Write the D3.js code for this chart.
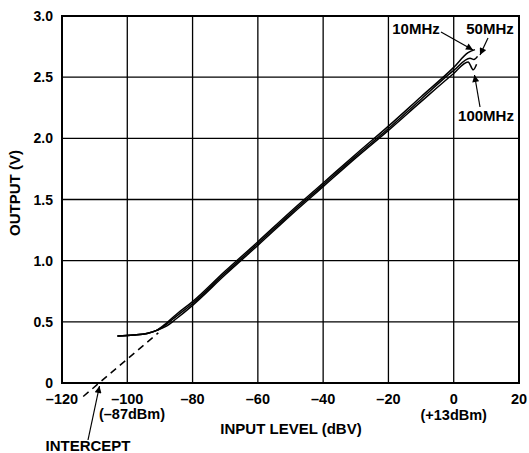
<!DOCTYPE html>
<html>
<head>
<meta charset="utf-8">
<script src="https://d3js.org/d3.v7.min.js"></script>
<style>
  body { margin: 0; background: #fff; }
  svg text { font-family: "Liberation Sans", Arial, sans-serif; font-weight: bold; fill: #000; }
</style>
</head>
<body>
<div id="chart"></div>
<script>
// axis ticks
const xTicks = [-120, -100, -80, -60, -40, -20, 0, 20];
const yTicks = [0, 0.5, 1.0, 1.5, 2.0, 2.5, 3.0];

// curves: [input dBV, output V]
const curve10MHz = [
  [-103, 0.385], [-98, 0.392], [-94, 0.405], [-91, 0.43], [-88, 0.49], [-85, 0.56],
  [-80, 0.665], [-70, 0.915], [-60, 1.155], [-50, 1.40], [-40, 1.635], [-30, 1.87],
  [-20, 2.10], [-10, 2.34], [0, 2.58], [4.4, 2.70], [6.5, 2.725]
];
const curve50MHz = [
  [-103, 0.385], [-98, 0.392], [-94, 0.405], [-91, 0.43], [-88, 0.48], [-85, 0.545],
  [-80, 0.65], [-70, 0.90], [-60, 1.14], [-50, 1.385], [-40, 1.62], [-30, 1.855],
  [-20, 2.08], [-10, 2.32], [0, 2.555], [5, 2.655], [6.2, 2.645], [7.3, 2.67]
];
const curve100MHz = [
  [-103, 0.385], [-98, 0.392], [-94, 0.405], [-91, 0.43], [-88, 0.465], [-85, 0.525],
  [-80, 0.635], [-70, 0.885], [-60, 1.125], [-50, 1.37], [-40, 1.605], [-30, 1.84],
  [-20, 2.065], [-10, 2.30], [0, 2.53], [4.4, 2.625], [6.0, 2.56], [7.0, 2.605]
];
// extrapolated intercept line
const interceptLine = [[-113.5, -0.11], [-90.5, 0.41]];

const width = 529, height = 453;
const margin = { top: 16, right: 10, bottom: 70, left: 62 };

const svg = d3.select('#chart').append('svg')
  .attr('width', width)
  .attr('height', height);

const x = d3.scaleLinear().domain([-120, 20]).range([margin.left, width - margin.right]);
const y = d3.scaleLinear().domain([0, 3]).range([height - margin.bottom, margin.top]);

// grid
svg.append('g').selectAll('line').data(xTicks.slice(1, -1)).enter().append('line')
  .attr('x1', d => x(d)).attr('x2', d => x(d))
  .attr('y1', y(0)).attr('y2', y(3))
  .attr('stroke', '#000').attr('stroke-width', 1.3);
svg.append('g').selectAll('line').data(yTicks.slice(1, -1)).enter().append('line')
  .attr('x1', x(-120)).attr('x2', x(20))
  .attr('y1', d => y(d)).attr('y2', d => y(d))
  .attr('stroke', '#000').attr('stroke-width', 1.3);

// frame
svg.append('rect')
  .attr('x', x(-120)).attr('y', y(3))
  .attr('width', x(20) - x(-120)).attr('height', y(0) - y(3))
  .attr('fill', 'none').attr('stroke', '#000').attr('stroke-width', 2);

// tick labels
svg.append('g').selectAll('text').data(xTicks).enter().append('text')
  .attr('x', d => x(d)).attr('y', y(0) + 21)
  .attr('text-anchor', 'middle').attr('font-size', 14.5)
  .text(d => d < 0 ? '\u2013' + Math.abs(d) : d);
svg.append('g').selectAll('text').data(yTicks).enter().append('text')
  .attr('x', x(-120) - 9).attr('y', d => y(d) + 5)
  .attr('text-anchor', 'end').attr('font-size', 14)
  .text(d => d === 0 ? '0' : d.toFixed(1));

// axis titles
svg.append('text')
  .attr('x', 291).attr('y', 434)
  .attr('text-anchor', 'middle').attr('font-size', 15)
  .text('INPUT LEVEL (dBV)');
svg.append('text')
  .attr('transform', 'translate(19.5,193) rotate(-90)')
  .attr('text-anchor', 'middle').attr('font-size', 15)
  .text('OUTPUT (V)');

// dBm notes under axis
svg.append('text').attr('x', 132).attr('y', 419)
  .attr('text-anchor', 'middle').attr('font-size', 14.5).text('(\u201387dBm)');
svg.append('text').attr('x', x(0)).attr('y', 420)
  .attr('text-anchor', 'middle').attr('font-size', 14.5).text('(+13dBm)');

// curves
const line = d3.line().x(d => x(d[0])).y(d => y(d[1])).curve(d3.curveMonotoneX);
[curve10MHz, curve50MHz, curve100MHz].forEach(c => {
  svg.append('path').datum(c)
    .attr('d', line)
    .attr('fill', 'none').attr('stroke', '#000').attr('stroke-width', 1.5);
});

svg.append('path').datum(interceptLine)
  .attr('d', d3.line().x(d => x(d[0])).y(d => y(d[1])))
  .attr('fill', 'none').attr('stroke', '#000').attr('stroke-width', 1.5)
  .attr('stroke-dasharray', '7,5');

// arrows
svg.append('defs').append('marker')
  .attr('id', 'arrow').attr('viewBox', '0 0 10 10')
  .attr('refX', 10).attr('refY', 5)
  .attr('markerWidth', 9).attr('markerHeight', 7)
  .attr('markerUnits', 'userSpaceOnUse')
  .attr('orient', 'auto')
  .append('path').attr('d', 'M0,0 L10,5 L0,10 z').attr('fill', '#000');

const arrows = [
  [88, 440, 99.5, 386],
  [441, 32, 473, 50],
  [488, 38, 480, 55],
  [480, 107, 474.5, 75]
];
svg.append('g').selectAll('line').data(arrows).enter().append('line')
  .attr('x1', d => d[0]).attr('y1', d => d[1])
  .attr('x2', d => d[2]).attr('y2', d => d[3])
  .attr('stroke', '#000').attr('stroke-width', 1.2)
  .attr('marker-end', 'url(#arrow)');

// annotation labels
svg.append('text').attr('x', 88).attr('y', 451)
  .attr('text-anchor', 'middle').attr('font-size', 15).text('INTERCEPT');
svg.append('text').attr('x', 416).attr('y', 34)
  .attr('text-anchor', 'middle').attr('font-size', 15).text('10MHz');
svg.append('text').attr('x', 490).attr('y', 34)
  .attr('text-anchor', 'middle').attr('font-size', 15).text('50MHz');
svg.append('text').attr('x', 486).attr('y', 121)
  .attr('text-anchor', 'middle').attr('font-size', 15).text('100MHz');
</script>
</body>
</html>
